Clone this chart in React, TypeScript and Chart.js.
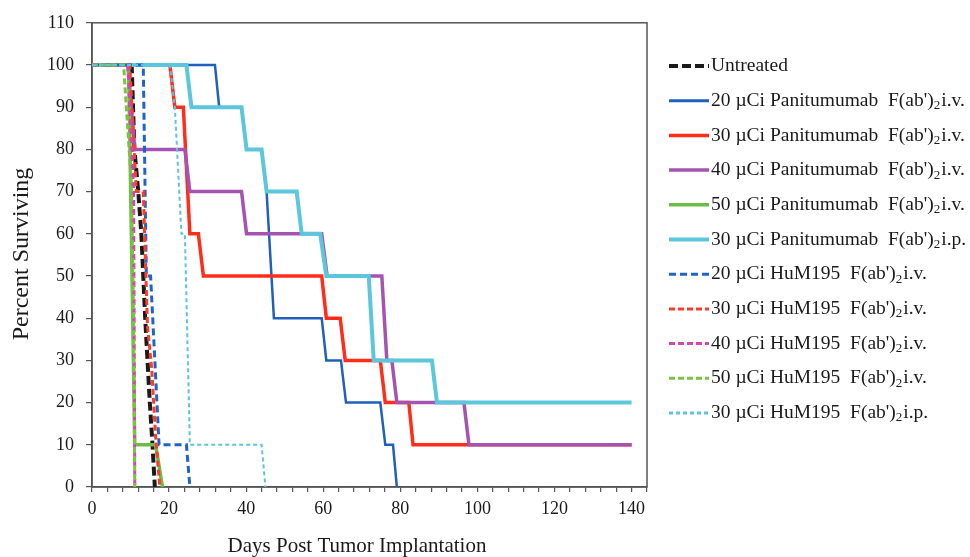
import React, { useEffect, useRef } from 'react';
import { Chart, registerables } from 'chart.js';

Chart.register(...registerables);

// Survival curves: [day, percent surviving]
const untreated = [[0, 100], [10.3, 100], [11, 80], [12, 70], [12.8, 60], [13.3, 50], [13.8, 40], [14.4, 30], [15, 20], [15.7, 10], [16.3, 0]];
const pan20iv = [[0, 100], [31.9, 100], [33, 90], [38.8, 90], [40.1, 80], [44, 80], [45.3, 70], [47.2, 40], [59.6, 40], [60.8, 30], [64.6, 30], [65.9, 20], [74.8, 20], [76.1, 10], [78.1, 10], [79.1, 0]];
const pan30iv = [[0, 100], [20.2, 100], [21.5, 90], [23.7, 90], [25.4, 60], [27.6, 60], [28.9, 50], [59.6, 50], [60.8, 40], [64.4, 40], [65.7, 30], [74.8, 30], [76.1, 20], [82.2, 20], [83.3, 10], [140, 10]];
const pan40iv = [[0, 100], [9.3, 100], [11.1, 80], [24.1, 80], [25.4, 70], [38.8, 70], [40.1, 60], [59.6, 60], [61, 50], [75.2, 50], [76.5, 30], [77.8, 30], [79.1, 20], [96.5, 20], [97.8, 10], [140, 10]];
const pan50iv = [[0, 100], [9.5, 100], [11.1, 10], [16.5, 10], [18.3, 0]];
const pan30ip = [[0, 100], [24.5, 100], [25.8, 90], [38.8, 90], [40.1, 80], [44, 80], [45.3, 70], [53.1, 70], [54.4, 60], [59.2, 60], [60.8, 50], [71.8, 50], [73.1, 30], [88.2, 30], [89.5, 20], [140, 20]];
const hu20iv = [[0, 100], [13.3, 100], [14.1, 50], [15.2, 50], [17.4, 10], [24.5, 10], [25.4, 0]];
const hu30iv = [[0, 100], [9.8, 100], [11.5, 70], [13.3, 70], [14.4, 38], [15.5, 28], [16.5, 12], [17.6, 0]];
const hu40iv = [[0, 100], [9.3, 100], [10.8, 70], [11.1, 0]];
const hu50iv = [[0, 100], [8.2, 100], [10.2, 72], [10.8, 40], [11.1, 0]];
const hu30ip = [[0, 100], [20.2, 100], [21.5, 90], [23.2, 60], [24.1, 60], [25.4, 10], [44, 10], [45, 0]];

const seriesData = [untreated, pan20iv, pan30iv, pan40iv, pan50iv, pan30ip, hu20iv, hu30iv, hu40iv, hu50iv, hu30ip];

// Legend text pieces
const doses = ['', '20', '30', '40', '50', '30', '20', '30', '40', '50', '30'];
const antibodies = ['Untreated', 'Panitumumab', 'Panitumumab', 'Panitumumab', 'Panitumumab', 'Panitumumab', 'HuM195', 'HuM195', 'HuM195', 'HuM195', 'HuM195'];
const routes = ['', 'i.v.', 'i.v.', 'i.v.', 'i.v.', 'i.p.', 'i.v.', 'i.v.', 'i.v.', 'i.v.', 'i.p.'];

// Axis ticks and titles
const yTickValues = [0, 10, 20, 30, 40, 50, 60, 70, 80, 90, 100, 110];
const xLabelValues = [0, 20, 40, 60, 80, 100, 120, 140];
const xTitle = 'Days Post Tumor Implantation';
const yTitle = 'Percent Surviving';

// Styles
const colors = ['#1a1a1a', '#1f5fbd', '#ff2d1a', '#a453b1', '#6cbd45', '#5cc6db', '#1e64c8', '#ff3a2a', '#d147b0', '#7cc242', '#5cc4dd'];
const widths = [4, 2.5, 3.5, 3.5, 3.5, 4, 3, 3, 3, 3, 2];
const dashes = [[9, 4], [], [], [], [], [], [7, 4], [6, 3], [6, 3], [6, 3], [4, 3]];

const FONT = '"Liberation Serif", "Times New Roman", serif';

const framePlugin = {
  id: 'frame',
  beforeDatasetsDraw(chart: any) {
    const { ctx, chartArea } = chart;
    ctx.save();
    ctx.strokeStyle = '#555';
    ctx.lineWidth = 1.5;
    ctx.strokeRect(chartArea.left, chartArea.top, chartArea.right - chartArea.left, chartArea.bottom - chartArea.top);
    ctx.restore();
  },
};

const titlePlugin = {
  id: 'titles',
  afterDraw(chart: any) {
    const ctx = chart.ctx;
    ctx.save();
    ctx.fillStyle = '#1a1a1a';
    ctx.textAlign = 'center';
    ctx.textBaseline = 'middle';
    ctx.font = '21px ' + FONT;
    ctx.fillText(xTitle, 357, 546);
    ctx.translate(22, 254);
    ctx.rotate(-Math.PI / 2);
    ctx.font = '24px ' + FONT;
    ctx.fillText(yTitle, 0, 0);
    ctx.restore();
  },
};

const legendPlugin = {
  id: 'customLegend',
  afterDraw(chart: any) {
    const ctx = chart.ctx;
    ctx.save();
    for (let i = 0; i < antibodies.length; i++) {
      const y = 66 + i * 34.7;
      ctx.beginPath();
      ctx.strokeStyle = colors[i];
      ctx.lineWidth = Math.max(widths[i], 3);
      ctx.setLineDash(dashes[i]);
      ctx.moveTo(669, y);
      ctx.lineTo(709, y);
      ctx.stroke();
      ctx.setLineDash([]);
      ctx.fillStyle = '#1a1a1a';
      ctx.textBaseline = 'middle';
      ctx.textAlign = 'left';
      ctx.font = '19.5px ' + FONT;
      let x = 711;
      if (!doses[i]) {
        ctx.fillText(antibodies[i], x, y);
        continue;
      }
      const main = doses[i] + ' \u00B5Ci ' + antibodies[i] + '  F(ab\')';
      ctx.fillText(main, x, y);
      x += ctx.measureText(main).width;
      ctx.font = '13px ' + FONT;
      ctx.fillText('2', x, y + 5);
      x += ctx.measureText('2').width + 1;
      ctx.font = '19.5px ' + FONT;
      ctx.fillText(routes[i], x, y);
    }
    ctx.restore();
  },
};

export default function App() {
  const ref = useRef<HTMLCanvasElement>(null);
  useEffect(() => {
    if (!ref.current) return;
    const n = seriesData.length;
    const chart = new Chart(ref.current, {
      type: 'line',
      data: {
        datasets: seriesData.map((pts, i) => ({
          label: (doses[i] ? doses[i] + ' \u00B5Ci ' : '') + antibodies[i] + (routes[i] ? ' F(ab\')2 ' + routes[i] : ''),
          data: pts.map(([x, y]) => ({ x, y })),
          borderColor: colors[i],
          backgroundColor: colors[i],
          borderWidth: widths[i],
          borderDash: dashes[i],
          pointRadius: 0,
          tension: 0,
          fill: false,
          order: n - i,
        })),
      },
      options: {
        responsive: false,
        animation: false,
        layout: { padding: { left: 0, right: 323, top: 18, bottom: 0 } },
        plugins: { legend: { display: false }, tooltip: { enabled: false } },
        scales: {
          x: {
            type: 'linear',
            min: 0,
            max: 144,
            afterFit: (s: any) => { s.height = 70; },
            afterBuildTicks: (s: any) => {
              const t = [];
              for (let v = 0; v <= 144; v += 4) t.push({ value: v });
              s.ticks = t;
            },
            ticks: {
              autoSkip: false,
              maxRotation: 0,
              padding: 6,
              color: '#1a1a1a',
              font: { family: FONT, size: 18 },
              callback: (v: any) => (xLabelValues.includes(Number(v)) ? String(v) : ''),
            },
            grid: { drawOnChartArea: false, drawTicks: true, tickLength: 5, color: '#555', lineWidth: 1.2 },
            border: { display: true, color: '#555', width: 1.5 },
          },
          y: {
            type: 'linear',
            min: 0,
            max: 110,
            afterFit: (s: any) => { s.width = 92; },
            afterBuildTicks: (s: any) => { s.ticks = yTickValues.map((v) => ({ value: v })); },
            ticks: {
              padding: 12,
              color: '#1a1a1a',
              font: { family: FONT, size: 18 },
            },
            grid: { drawOnChartArea: false, drawTicks: true, tickLength: 6, color: '#555', lineWidth: 1.2 },
            border: { display: true, color: '#555', width: 1.5 },
          },
        },
      },
      plugins: [framePlugin, titlePlugin, legendPlugin],
    });
    return () => chart.destroy();
  }, []);
  return (
    <div style={{ position: 'absolute', left: 0, top: 0, width: 970, height: 557, background: '#fff' }}>
      <canvas ref={ref} width={970} height={557} style={{ width: 970, height: 557, display: 'block' }} />
    </div>
  );
}
